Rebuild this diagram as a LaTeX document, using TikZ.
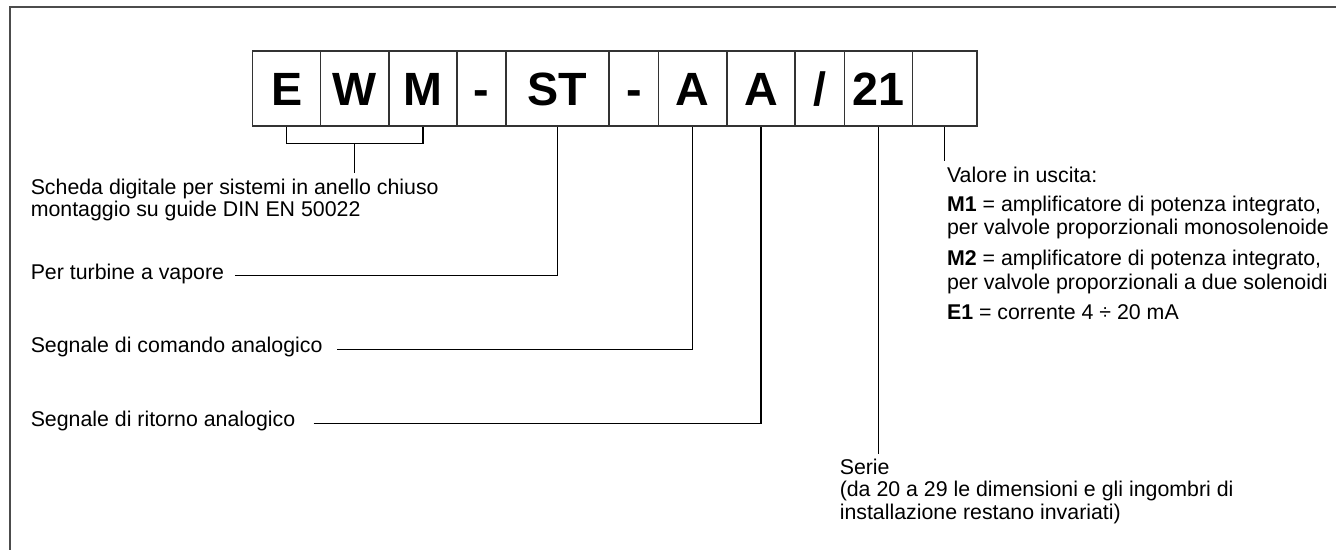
\documentclass[tikz,border=0pt]{standalone}
\usepackage{fontspec}
\setmainfont{Liberation Sans}
\usetikzlibrary{calc}
\begin{document}
\begin{tikzpicture}[x=0.75pt,y=-0.75pt,
  box/.style={draw=black!80, line width=1.1pt, minimum height=56.25pt, inner sep=0pt,
              text height=25pt, text depth=0pt, font=\fontsize{35}{35}\selectfont\bfseries},
  lbl/.style={anchor=base west, inner sep=0pt, font=\fontsize{16}{19}\selectfont},
  con/.style={draw=black, line width=0.9pt}]
\useasboundingbox (0,0) rectangle (1336,550);
\clip (0,0) rectangle (1336,550);
\draw[line width=1.7pt, black!70] (10,7.3) rectangle (1400,620);

% code boxes
\node[box, minimum width=68.1*0.75pt] (bE)  at (286.65,88.35) {E};
\node[box, minimum width=68.1*0.75pt] (bW)  at (354.75,88.35) {W};
\node[box, minimum width=68.2*0.75pt] (bM)  at (422.9,88.35) {M};
\node[box, minimum width=49*0.75pt]   (bd1) at (481.5,88.35) {-};
\node[box, minimum width=103*0.75pt]  (bST) at (557.5,88.35) {ST};
\node[box, minimum width=49.6*0.75pt] (bd2) at (633.8,88.35) {-};
\node[box, minimum width=68.4*0.75pt] (bA1) at (692.8,88.35) {A};
\node[box, minimum width=68*0.75pt]   (bA2) at (761,88.35) {A};
\node[box, minimum width=49.3*0.75pt] (bsl) at (819.65,88.35) {/};
\node[box, minimum width=68*0.75pt]   (b21) at (878.3,88.35) {21};
\node[box, minimum width=64.7*0.75pt] (bX)  at (944.65,88.35) {};

% left labels
\node[lbl] (tS1)   at (30.5,194)   {Scheda digitale per sistemi in anello chiuso};
\node[lbl] (tS2)   at (30.5,216.7) {montaggio su guide DIN EN 50022};
\node[lbl] (tTurb) at (30.5,279.3) {Per turbine a vapore};
\node[lbl] (tCom)  at (30.5,352.7) {Segnale di comando analogico};
\node[lbl] (tRit)  at (30.5,426.7) {Segnale di ritorno analogico};

% right labels
\node[lbl] (tV)   at (946.8,182)   {Valore in uscita:};
\node[lbl] (tM1)  at (946.8,211.4) {\textbf{M1} = amplificatore di potenza integrato,};
\node[lbl] (tM1b) at (946.8,234)   {per valvole proporzionali monosolenoide};
\node[lbl] (tM2)  at (946.8,265.8) {\textbf{M2} = amplificatore di potenza integrato,};
\node[lbl] (tM2b) at (946.8,289.3) {per valvole proporzionali a due solenoidi};
\node[lbl] (tE1)  at (946.8,319.5) {\textbf{E1} = corrente 4 ÷ 20 mA};

% series labels
\node[lbl] (tSer)  at (839.5,474)   {Serie};
\node[lbl] (tSer2) at (839.5,496.7) {(da 20 a 29 le dimensioni e gli ingombri di};
\node[lbl] (tSer3) at (839.5,519.5) {installazione restano invariati)};

% connectors
\coordinate (br) at ($(bW.south)+(0,16.6)$);
\draw[con] (bE.south) -- (bE.south |- br) -- (bM.south |- br) -- (bM.south);
\coordinate (brEnd) at ($(br |- tS1.north)+(0,-5)$);
\draw[con] (br) -- (brEnd);

\draw[con] ($(tTurb.mid east)+(10.5,0)$) -| (bST.south);
\draw[con] ($(tCom.mid east)+(14.5,0)$) -| (bA1.south);
\draw[con] ($(tRit.mid east)+(18,0)$) -| (bA2.south);

\coordinate (c21) at ($(b21.south)+(0,327.6)$);
\draw[con] (b21.south) -- (c21);
\coordinate (cX) at ($(bX.south)+(0,34.3)$);
\draw[con] (bX.south) -- (cX);
\end{tikzpicture}
\end{document}
